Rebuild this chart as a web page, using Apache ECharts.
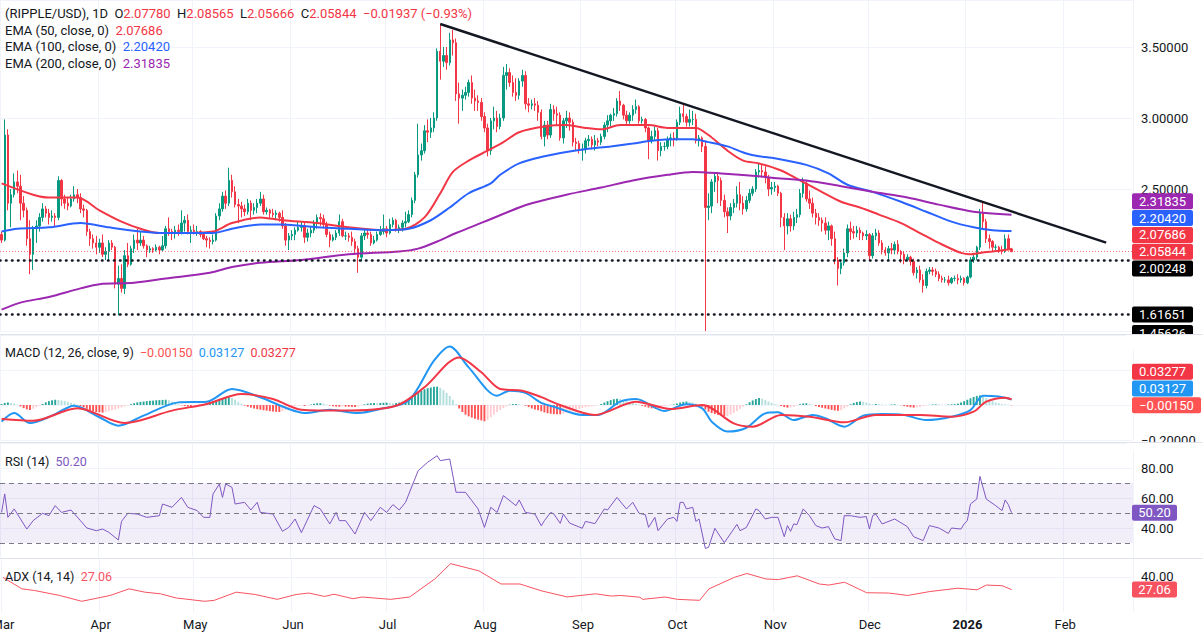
<!DOCTYPE html>
<html><head><meta charset="utf-8">
<script src="https://cdn.jsdelivr.net/npm/echarts@6/dist/echarts.min.js"></script>
<style>html,body{margin:0;padding:0;background:#fff;}#c{width:1203px;height:634px;}</style>
</head><body><div id="c"></div>
<script>
const FONT = 'Roboto, "Noto Sans", sans-serif';

// ---- categories (daily, 2025-03-01 .. 2026-02-22) ----
const cats = [];
for (let i = 0; i < 359; i++) { const d = new Date(Date.UTC(2025, 2, 1 + i)); cats.push(d.toISOString().slice(0, 10)); }
const monthTicks = {'2025-03-01':'Mar','2025-04-01':'Apr','2025-05-01':'May','2025-06-01':'Jun','2025-07-01':'Jul','2025-08-01':'Aug','2025-09-01':'Sep','2025-10-01':'Oct','2025-11-01':'Nov','2025-12-01':'Dec','2026-01-01':'2026','2026-02-01':'Feb'};

// ---- candles [open, close, low, high] ----
const ohlc = [
// Mar
[2.18,2.14,2.12,2.20],[2.14,2.88,2.13,2.99],[2.88,2.40,2.35,2.92],[2.40,2.46,2.23,2.50],[2.46,2.55,2.44,2.61],
[2.55,2.52,2.47,2.63],[2.52,2.40,2.28,2.60],[2.40,2.35,2.30,2.45],[2.35,2.15,2.10,2.37],[2.15,2.04,1.90,2.28],
[2.04,2.22,1.93,2.24],[2.22,2.24,2.12,2.28],[2.24,2.30,2.20,2.33],[2.30,2.36,2.27,2.40],[2.36,2.33,2.30,2.38],
[2.33,2.30,2.25,2.36],[2.30,2.31,2.27,2.35],[2.31,2.30,2.24,2.33],[2.30,2.56,2.28,2.59],[2.56,2.43,2.38,2.57],
[2.43,2.40,2.36,2.46],[2.40,2.38,2.35,2.44],[2.38,2.43,2.37,2.46],[2.43,2.46,2.41,2.52],[2.46,2.44,2.40,2.50],
[2.44,2.36,2.33,2.47],[2.36,2.35,2.30,2.39],[2.35,2.20,2.17,2.36],[2.20,2.15,2.10,2.22],[2.15,2.12,2.08,2.18],
[2.12,2.09,2.04,2.17],
// Apr
[2.09,2.12,2.05,2.15],[2.12,2.04,2.02,2.18],[2.04,2.06,2.00,2.09],[2.06,2.12,2.00,2.14],[2.12,2.09,2.07,2.14],
[2.09,1.83,1.80,2.10],[1.83,1.87,1.61,1.96],[1.87,1.80,1.77,1.97],[1.80,2.03,1.76,2.07],[2.03,1.97,1.95,2.12],
[1.97,2.08,1.96,2.10],[2.08,2.14,2.05,2.18],[2.14,2.12,2.07,2.22],[2.12,2.14,2.10,2.20],[2.14,2.10,2.08,2.17],
[2.10,2.07,2.02,2.11],[2.07,2.08,2.05,2.10],[2.08,2.07,2.05,2.09],[2.07,2.09,2.06,2.11],[2.09,2.07,2.04,2.10],
[2.07,2.10,2.06,2.17],[2.10,2.22,2.08,2.24],[2.22,2.20,2.17,2.30],[2.20,2.19,2.14,2.22],[2.19,2.21,2.15,2.24],
[2.21,2.20,2.17,2.25],[2.20,2.26,2.18,2.35],[2.26,2.28,2.20,2.31],[2.28,2.20,2.18,2.32],[2.20,2.21,2.12,2.24],
// May
[2.21,2.20,2.18,2.25],[2.20,2.20,2.17,2.24],[2.20,2.18,2.16,2.21],[2.18,2.15,2.14,2.19],[2.15,2.14,2.09,2.17],
[2.14,2.13,2.08,2.16],[2.13,2.14,2.11,2.18],[2.14,2.31,2.13,2.33],[2.31,2.36,2.28,2.40],[2.36,2.45,2.34,2.48],
[2.45,2.40,2.36,2.49],[2.40,2.56,2.38,2.65],[2.56,2.48,2.44,2.60],[2.48,2.39,2.37,2.52],[2.39,2.38,2.26,2.43],
[2.38,2.36,2.30,2.41],[2.36,2.34,2.31,2.39],[2.34,2.40,2.32,2.43],[2.40,2.35,2.28,2.42],[2.35,2.37,2.32,2.40],
[2.37,2.40,2.33,2.43],[2.40,2.43,2.38,2.48],[2.43,2.34,2.32,2.46],[2.34,2.35,2.32,2.37],[2.35,2.33,2.29,2.36],
[2.33,2.32,2.30,2.36],[2.32,2.33,2.28,2.35],[2.33,2.30,2.27,2.34],[2.30,2.24,2.22,2.35],[2.24,2.14,2.10,2.26],
[2.14,2.17,2.07,2.19],
// Jun
[2.17,2.18,2.14,2.21],[2.18,2.21,2.14,2.23],[2.21,2.23,2.20,2.27],[2.23,2.24,2.20,2.27],[2.24,2.16,2.12,2.26],
[2.16,2.19,2.13,2.22],[2.19,2.21,2.16,2.24],[2.21,2.26,2.19,2.28],[2.26,2.30,2.22,2.32],[2.30,2.29,2.24,2.33],
[2.29,2.25,2.23,2.32],[2.25,2.18,2.16,2.27],[2.18,2.14,2.09,2.20],[2.14,2.16,2.13,2.18],[2.16,2.19,2.14,2.21],
[2.19,2.27,2.17,2.32],[2.27,2.17,2.16,2.29],[2.17,2.17,2.14,2.20],[2.17,2.16,2.13,2.19],[2.16,2.13,2.10,2.20],
[2.13,2.08,2.05,2.15],[2.08,2.02,1.91,2.10],[2.02,2.17,1.99,2.19],[2.17,2.19,2.14,2.22],[2.19,2.18,2.15,2.22],
[2.18,2.12,2.10,2.20],[2.12,2.14,2.11,2.17],[2.14,2.18,2.13,2.20],[2.18,2.20,2.17,2.24],[2.20,2.22,2.18,2.32],
// Jul
[2.22,2.19,2.16,2.24],[2.19,2.25,2.18,2.29],[2.25,2.28,2.23,2.30],[2.28,2.22,2.20,2.29],[2.22,2.23,2.19,2.25],
[2.23,2.26,2.20,2.28],[2.26,2.27,2.23,2.34],[2.27,2.32,2.26,2.35],[2.32,2.42,2.30,2.44],[2.42,2.60,2.40,2.62],
[2.60,2.74,2.58,2.96],[2.74,2.77,2.70,2.82],[2.77,2.91,2.75,2.95],[2.91,2.90,2.83,2.99],[2.90,2.93,2.86,3.00],
[2.93,3.00,2.90,3.04],[3.00,3.47,2.98,3.49],[3.47,3.40,3.27,3.66],[3.40,3.44,3.36,3.50],[3.44,3.39,3.34,3.50],
[3.39,3.55,3.37,3.60],[3.55,3.53,3.44,3.62],[3.53,3.17,3.12,3.56],[3.17,3.14,2.96,3.25],[3.14,3.16,3.05,3.20],
[3.16,3.18,3.13,3.22],[3.18,3.25,3.15,3.27],[3.25,3.14,3.10,3.30],[3.14,3.12,3.05,3.20],[3.12,3.11,3.05,3.16],
[3.11,3.01,2.98,3.14],
// Aug
[3.01,2.93,2.90,3.04],[2.93,2.77,2.73,2.96],[2.77,2.98,2.74,3.00],[2.98,3.00,2.92,3.08],[3.00,2.94,2.90,3.05],
[2.94,3.00,2.92,3.03],[3.00,3.30,2.98,3.36],[3.30,3.32,3.20,3.38],[3.32,3.25,3.22,3.35],[3.25,3.18,3.15,3.30],
[3.18,3.16,3.12,3.28],[3.16,3.26,3.13,3.28],[3.26,3.30,3.22,3.34],[3.30,3.10,3.06,3.33],[3.10,3.09,3.04,3.14],
[3.09,3.10,3.06,3.13],[3.10,3.09,3.05,3.14],[3.09,3.04,2.98,3.12],[3.04,2.87,2.85,3.06],[2.87,2.95,2.80,2.98],
[2.95,2.88,2.85,2.98],[2.88,3.06,2.86,3.10],[3.06,3.03,2.98,3.09],[3.03,3.02,2.95,3.08],[3.02,2.86,2.84,3.04],
[2.86,2.98,2.82,3.00],[2.98,3.00,2.93,3.05],[3.00,2.97,2.91,3.04],[2.97,2.83,2.80,2.99],[2.83,2.82,2.77,2.86],
[2.82,2.78,2.75,2.84],
// Sep
[2.78,2.78,2.70,2.82],[2.78,2.84,2.75,2.86],[2.84,2.85,2.80,2.88],[2.85,2.81,2.78,2.87],[2.81,2.84,2.77,2.88],
[2.84,2.83,2.80,2.86],[2.83,2.87,2.81,2.89],[2.87,2.95,2.85,2.97],[2.95,2.98,2.90,3.02],[2.98,3.02,2.94,3.03],
[3.02,3.03,2.98,3.07],[3.03,3.12,3.01,3.14],[3.12,3.09,3.05,3.19],[3.09,3.02,2.99,3.10],[3.02,2.98,2.95,3.05],
[2.98,3.02,2.96,3.04],[3.02,3.06,2.98,3.09],[3.06,3.08,3.03,3.13],[3.08,2.98,2.96,3.09],[2.98,2.99,2.96,3.01],
[2.99,2.93,2.90,3.00],[2.93,2.84,2.71,2.94],[2.84,2.87,2.82,2.91],[2.87,2.91,2.84,2.94],[2.91,2.77,2.70,2.93],
[2.77,2.80,2.73,2.83],[2.80,2.80,2.77,2.83],[2.80,2.85,2.78,2.87],[2.85,2.86,2.80,2.89],[2.86,2.85,2.80,2.90],
// Oct
[2.85,2.97,2.84,2.99],[2.97,3.03,2.95,3.08],[3.03,3.01,2.97,3.10],[3.01,2.97,2.94,3.03],[2.97,2.99,2.94,3.06],
[2.99,2.99,2.95,3.05],[2.99,2.84,2.82,3.03],[2.84,2.86,2.80,2.88],[2.86,2.80,2.76,2.87],[2.80,2.37,1.50,2.84],
[2.37,2.38,2.28,2.47],[2.38,2.55,2.33,2.57],[2.55,2.59,2.48,2.61],[2.59,2.56,2.40,2.62],[2.56,2.42,2.38,2.58],
[2.42,2.34,2.30,2.46],[2.34,2.31,2.19,2.37],[2.31,2.37,2.28,2.40],[2.37,2.40,2.33,2.43],[2.40,2.46,2.37,2.52],
[2.46,2.40,2.35,2.55],[2.40,2.36,2.32,2.45],[2.36,2.42,2.34,2.45],[2.42,2.47,2.40,2.50],[2.47,2.50,2.45,2.52],
[2.50,2.62,2.48,2.64],[2.62,2.63,2.58,2.68],[2.63,2.62,2.58,2.67],[2.62,2.58,2.54,2.66],[2.58,2.50,2.45,2.60],
[2.50,2.51,2.46,2.55],
// Nov
[2.51,2.52,2.48,2.55],[2.52,2.47,2.45,2.53],[2.47,2.30,2.23,2.48],[2.30,2.24,2.07,2.33],[2.24,2.29,2.18,2.33],
[2.29,2.24,2.20,2.32],[2.24,2.30,2.21,2.34],[2.30,2.32,2.26,2.36],[2.32,2.47,2.30,2.50],[2.47,2.54,2.44,2.58],
[2.54,2.43,2.41,2.56],[2.43,2.40,2.36,2.49],[2.40,2.33,2.30,2.44],[2.33,2.30,2.25,2.36],[2.30,2.28,2.24,2.33],
[2.28,2.26,2.20,2.30],[2.26,2.21,2.18,2.30],[2.21,2.24,2.14,2.27],[2.24,2.15,2.10,2.25],[2.15,2.00,1.97,2.20],
[2.00,1.94,1.82,2.02],[1.94,1.98,1.90,2.00],[1.98,2.05,1.96,2.08],[2.05,2.22,2.02,2.25],[2.22,2.20,2.14,2.27],
[2.20,2.19,2.15,2.24],[2.19,2.21,2.16,2.24],[2.21,2.19,2.14,2.23],[2.19,2.17,2.14,2.20],[2.17,2.18,2.14,2.21],
// Dec
[2.18,2.03,2.00,2.19],[2.03,2.17,2.01,2.19],[2.17,2.19,2.14,2.22],[2.19,2.12,2.10,2.21],[2.12,2.07,2.04,2.14],
[2.07,2.05,2.03,2.09],[2.05,2.08,2.00,2.10],[2.08,2.07,2.04,2.12],[2.07,2.11,2.04,2.13],[2.11,2.06,2.04,2.14],
[2.06,2.04,1.98,2.07],[2.04,2.00,1.97,2.06],[2.00,2.02,1.99,2.04],[2.02,1.99,1.96,2.03],[1.99,1.91,1.89,2.01],
[1.91,1.93,1.87,1.95],[1.93,1.86,1.84,1.96],[1.86,1.82,1.77,1.90],[1.82,1.92,1.80,1.94],[1.92,1.93,1.90,1.95],
[1.93,1.92,1.89,1.95],[1.92,1.90,1.88,1.94],[1.90,1.87,1.85,1.92],[1.87,1.86,1.84,1.89],[1.86,1.86,1.84,1.88],
[1.86,1.84,1.82,1.89],[1.84,1.87,1.83,1.88],[1.87,1.87,1.85,1.89],[1.87,1.86,1.83,1.90],[1.86,1.87,1.84,1.89],
[1.87,1.84,1.82,1.88],
// Jan 2026
[1.84,1.88,1.83,1.89],[1.88,2.00,1.87,2.02],[2.00,2.02,1.98,2.05],[2.02,2.09,2.00,2.10],[2.09,2.33,2.07,2.36],
[2.33,2.27,2.22,2.41],[2.27,2.15,2.12,2.29],[2.15,2.13,2.08,2.18],[2.13,2.09,2.06,2.14],[2.09,2.09,2.07,2.11],
[2.09,2.07,2.05,2.10],[2.07,2.06,2.04,2.10],[2.06,2.15,2.05,2.18],[2.15,2.0778,2.07,2.18],[2.0778,2.05844,2.05666,2.08565]
];

// ---- moving averages: [dayIndex, value] ----
const ema50 = [[0,2.54],[10,2.46],[15,2.44],[24,2.44],[31,2.35],[38,2.27],[44,2.22],[50,2.19],[59,2.19],[67,2.20],[73,2.26],[82,2.30],[89,2.28],[100,2.26],[110,2.23],[121,2.21],[128,2.22],[134,2.30],[139,2.47],[143,2.62],[148,2.70],[154,2.77],[159,2.83],[164,2.90],[172,2.94],[179,2.95],[185,2.93],[190,2.92],[196,2.95],[205,2.95],[211,2.93],[220,2.93],[224,2.88],[230,2.77],[235,2.70],[240,2.68],[247,2.63],[253,2.56],[259,2.49],[266,2.41],[272,2.37],[278,2.32],[285,2.26],[291,2.19],[297,2.12],[304,2.05],[307,2.04],[310,2.05],[314,2.06],[320,2.07686]];
const ema100 = [[0,2.20],[5,2.22],[15,2.23],[25,2.26],[34,2.23],[44,2.20],[50,2.19],[67,2.19],[73,2.22],[82,2.25],[89,2.25],[100,2.23],[110,2.22],[121,2.21],[129,2.22],[136,2.28],[142,2.37],[148,2.47],[155,2.54],[158,2.60],[164,2.68],[172,2.73],[179,2.76],[185,2.78],[193,2.80],[200,2.82],[206,2.84],[214,2.85],[219,2.85],[224,2.83],[230,2.80],[236,2.75],[240,2.73],[244,2.72],[255,2.67],[262,2.61],[268,2.53],[276,2.48],[285,2.41],[293,2.34],[301,2.27],[308,2.23],[314,2.21],[320,2.20420]];
const ema200 = [[0,1.65],[6,1.70],[15,1.74],[25,1.80],[31,1.83],[42,1.84],[52,1.87],[66,1.91],[73,1.95],[82,1.98],[95,2.00],[110,2.04],[126,2.06],[132,2.08],[138,2.13],[144,2.19],[153,2.27],[164,2.37],[168,2.40],[179,2.46],[190,2.51],[200,2.56],[211,2.60],[219,2.62],[228,2.61],[240,2.59],[244,2.58],[255,2.56],[266,2.52],[276,2.48],[287,2.44],[297,2.39],[308,2.34],[320,2.31835]];

// ---- MACD ----
const macdLine = [[0,-0.095],[4,-0.046],[9,-0.103],[16,-0.061],[23,-0.004],[31,-0.070],[37,-0.118],[45,-0.061],[56,0.015],[65,0.019],[73,0.091],[82,0.044],[91,-0.023],[96,-0.046],[104,-0.027],[113,-0.046],[120,-0.023],[129,0.025],[137,0.253],[142,0.335],[148,0.215],[157,0.053],[161,0.082],[166,0.069],[171,0.012],[175,-0.010],[184,-0.057],[189,-0.057],[196,0.019],[201,0.034],[210,-0.034],[217,0.004],[222,-0.019],[225,-0.095],[230,-0.152],[236,-0.130],[242,-0.048],[246,-0.042],[251,-0.086],[257,-0.057],[261,-0.076],[267,-0.124],[273,-0.061],[279,-0.051],[286,-0.057],[293,-0.086],[301,-0.067],[307,-0.029],[311,0.053],[316,0.048],[320,0.03127]];
const signalLine = [[0,-0.080],[10,-0.090],[24,-0.019],[39,-0.103],[54,-0.032],[65,0.006],[76,0.063],[86,0.034],[95,-0.027],[108,-0.032],[125,-0.004],[134,0.101],[145,0.272],[152,0.187],[158,0.091],[165,0.082],[171,0.045],[177,0.000],[188,-0.057],[201,0.019],[212,-0.023],[222,0.000],[232,-0.105],[238,-0.124],[247,-0.057],[256,-0.067],[267,-0.099],[277,-0.057],[291,-0.057],[301,-0.067],[308,-0.038],[312,0.019],[318,0.042],[320,0.03277]];
const hist = [
0.006,0.012,0.015,0.012,0.008,0.003,
-0.008,-0.018,-0.025,-0.028,-0.022,-0.012,-0.004,
0.006,0.015,0.022,0.027,0.030,0.029,0.026,0.022,0.018,0.013,0.008,0.003,
-0.006,-0.014,-0.022,-0.030,-0.036,-0.040,-0.042,-0.043,-0.040,-0.035,-0.030,-0.026,-0.020,-0.014,-0.008,-0.003,
0.004,0.010,0.015,0.018,0.020,0.022,0.024,0.025,0.027,0.028,0.029,0.030,0.027,0.020,0.012,0.005,
-0.002,-0.006,-0.009,-0.010,-0.008,-0.006,-0.004,0.002,0.006,
0.012,0.020,0.028,0.035,0.040,0.044,0.045,0.040,0.030,0.018,0.008,
-0.004,-0.010,-0.015,-0.020,-0.024,-0.027,-0.030,-0.032,-0.035,-0.037,-0.039,-0.040,-0.036,-0.028,-0.016,
-0.008,-0.006,-0.004,-0.003,-0.005,-0.002,
0.003,0.007,0.010,0.010,0.007,0.003,
-0.003,-0.007,-0.009,-0.010,-0.008,-0.009,-0.010,-0.011,-0.012,-0.008,
-0.002,0.004,0.008,0.010,0.011,0.010,0.012,0.013,0.014,0.012,0.010,0.011,
0.014,0.018,0.024,0.034,0.046,0.060,0.072,0.082,0.090,0.096,0.100,0.104,0.105,0.098,0.085,0.070,0.052,0.030,
0.005,-0.020,-0.040,-0.055,-0.065,-0.072,-0.078,-0.084,-0.088,-0.093,-0.085,
-0.070,-0.055,-0.040,-0.028,-0.018,-0.008,
0.002,0.005,0.006,0.004,0.001,-0.004,
-0.012,-0.020,-0.026,-0.030,
-0.036,-0.042,-0.047,-0.050,-0.052,-0.053,-0.053,-0.050,-0.046,-0.040,-0.034,-0.028,-0.022,
-0.017,-0.013,-0.010,-0.007,-0.004,-0.001,
0.006,0.014,0.022,0.028,0.033,0.036,0.034,
0.028,0.022,0.016,0.011,0.007,0.003,
-0.005,-0.010,-0.015,-0.019,-0.020,-0.017,-0.012,
-0.006,-0.002,0.001,0.003,
0.008,0.014,0.018,0.020,0.018,0.014,0.008,0.002,
-0.010,-0.025,-0.038,-0.046,-0.052,-0.056,-0.060,-0.063,-0.062,-0.055,
-0.045,-0.034,-0.022,-0.010,
0.004,0.016,0.026,0.034,0.040,0.036,
0.028,0.020,0.012,0.005,0.001,
-0.006,-0.012,-0.015,-0.014,-0.010,-0.004,
0.004,0.009,0.010,0.006,0.002,
-0.006,-0.012,-0.016,-0.020,-0.024,-0.028,-0.031,-0.033,-0.030,
-0.020,-0.010,
0.004,0.012,0.017,0.020,0.019,0.014,0.008,
0.004,0.006,0.005,0.003,0.002,0.001,0.003,0.004,0.002,-0.002,
-0.006,-0.010,-0.013,-0.015,-0.014,-0.011,-0.006,
-0.002,0.001,0.003,0.004,0.003,0.002,0.001,0.003,0.004,0.005,0.008,
0.014,0.022,0.030,0.038,0.046,0.052,0.055,0.050,0.040,
0.030,0.022,0.015,0.010,0.006,0.004,0.002,-0.0015
];

// ---- RSI (14) ----
const rsi = [[0,50.4],[1,62.7],[2,47.1],[4,52.7],[8,39.3],[10,44.9],[13,49.8],[15,48.2],[17,54.9],[19,50.4],[22,52.0],[25,44.9],[27,40.0],[30,38.2],[32,39.3],[34,37.1],[37,32.0],[38,44.4],[40,49.8],[43,49.3],[46,47.1],[50,48.2],[51,56.0],[54,53.8],[57,60.4],[59,53.8],[62,51.6],[64,47.1],[66,47.1],[67,62.7],[69,69.3],[70,60.4],[71,69.3],[73,67.1],[74,56.0],[77,57.1],[79,52.0],[81,57.1],[82,50.4],[86,49.3],[89,37.8],[91,40.4],[93,46.0],[95,36.9],[99,54.9],[101,52.7],[104,42.7],[106,50.4],[107,44.9],[109,44.9],[112,36.0],[115,50.4],[117,44.9],[120,53.8],[122,50.4],[124,55.6],[126,52.0],[128,57.1],[132,78.2],[135,83.8],[138,88.2],[139,84.9],[142,86.0],[144,63.8],[147,63.8],[149,58.2],[151,52.7],[153,40.4],[155,53.8],[157,50.4],[159,61.6],[163,54.9],[164,58.7],[166,50.4],[169,49.3],[171,41.5],[172,44.9],[174,50.4],[175,49.3],[177,43.1],[178,49.3],[180,43.3],[184,39.8],[185,44.4],[188,42.9],[191,52.7],[192,52.0],[195,60.4],[198,52.7],[200,57.1],[202,49.8],[204,48.9],[205,40.4],[207,47.1],[208,38.2],[211,46.0],[213,47.1],[214,44.4],[215,57.1],[216,57.1],[217,52.7],[219,53.8],[220,44.4],[221,46.0],[223,26.4],[224,27.1],[226,39.8],[229,30.2],[233,42.4],[234,38.2],[236,40.4],[239,52.7],[240,51.6],[242,46.0],[244,47.1],[246,47.1],[248,34.2],[249,41.6],[250,37.8],[251,42.7],[252,42.2],[254,52.7],[256,48.2],[258,41.6],[260,40.0],[262,40.9],[264,32.7],[266,31.6],[267,48.2],[269,48.2],[272,47.1],[274,47.6],[275,39.3],[276,48.2],[277,49.3],[279,42.7],[283,46.0],[287,40.9],[289,34.2],[292,31.6],[294,41.6],[297,40.0],[300,36.4],[301,40.0],[304,39.3],[305,42.7],[306,44.9],[307,56.0],[309,59.3],[310,74.4],[312,59.3],[315,54.9],[317,51.6],[318,58.7],[319,55.6],[320,50.2]];

// ---- ADX (14, 14) ----
const adx = [[0,39.6],[6,27.8],[10,26.1],[18,21.0],[25,15.0],[34,21.0],[40,27.8],[45,24.4],[50,22.7],[55,18.4],[64,15.0],[67,16.0],[74,24.4],[80,22.0],[87,17.0],[93,22.0],[97,23.5],[102,20.0],[105,22.3],[111,17.7],[114,19.4],[123,17.0],[129,19.4],[137,38.0],[142,53.7],[151,46.3],[158,32.8],[164,32.8],[171,25.6],[179,19.5],[188,22.7],[193,20.4],[196,21.0],[202,19.2],[203,17.0],[210,19.4],[214,17.0],[221,16.0],[224,27.8],[232,39.6],[236,43.6],[242,38.0],[246,37.3],[252,41.2],[259,32.8],[262,31.7],[267,34.6],[274,23.8],[281,23.5],[287,21.0],[294,25.0],[303,28.5],[309,26.8],[312,31.7],[317,31.0],[320,27.06]];

// ---- levels / last values ----
const lastPrice = 2.05844;
const hLevels = [2.00248, 1.61651];
const hiddenLevel = 1.45626;
const trendFrom = [139, 3.662], trendTo = [350, 2.123];
const legendOHLC = {o:'2.07780', h:'2.08565', l:'2.05666', c:'2.05844', chg:'−0.01937 (−0.93%)'};

const GRID = '#F0F3FA', TXT = '#131722';
const isTick = (i, v) => !!monthTicks[v];
const firstLabel = cats[0];   // drawn separately so it is clipped at the left edge like the reference

function xAxisFor(g, show) {
  return {
    type: 'category', gridIndex: g, data: cats, boundaryGap: true,
    axisLine: {show: false}, axisTick: {show: false},
    axisLabel: {
      show: show, interval: isTick, margin: 6, color: TXT, fontSize: 13, fontFamily: FONT,
      formatter: v => v === firstLabel ? '' : (monthTicks[v] === '2026' ? '{b|2026}' : (monthTicks[v] || '')),
      rich: {b: {fontWeight: 'bold', fontSize: 13, color: TXT, fontFamily: FONT}}
    },
    splitLine: {show: true, interval: isTick, lineStyle: {color: GRID, width: 1}}
  };
}
const yLab = {color: TXT, fontSize: 13, fontFamily: FONT, margin: 8, align: 'left'};
// ADX pane shows only the 40 gridline (ticks every 4 from 4)
const adxGridColors = []; for (let v = 4; v <= 60; v += 4) adxGridColors.push(v === 40 ? GRID : 'rgba(0,0,0,0)');

const chart = echarts.init(document.getElementById('c'), null, {renderer: 'svg'});
const histColor = p => {
  const i = p.dataIndex, v = hist[i], pv = i > 0 ? hist[i - 1] : 0;
  if (v >= 0) return v >= pv ? '#26A69A' : '#B2DFDB';
  return v <= pv ? '#FF5252' : '#FFCDD2';
};

chart.setOption({
  animation: false,
  grid: [
    {left: 0, right: 70, top: 0, height: 331},
    {left: 0, right: 70, top: 335, height: 105},
    {left: 0, right: 70, top: 443, height: 115},
    {left: 0, right: 70, top: 559, height: 53}
  ],
  xAxis: [xAxisFor(0, false), xAxisFor(1, false), xAxisFor(2, false), xAxisFor(3, true)],
  yAxis: [
    {type: 'value', gridIndex: 0, position: 'right', min: 1.5, max: 3.831, interval: 0.5,
     axisLine: {show: false}, axisTick: {show: false}, splitLine: {lineStyle: {color: GRID}},
     axisLabel: Object.assign({}, yLab, {formatter: v => { const k = Math.round(v * 2); return (Math.abs(v * 2 - k) < 1e-6 && v >= 2.49 && v <= 3.51) ? v.toFixed(5) : ''; }})},
    {type: 'value', gridIndex: 1, position: 'right', min: -0.2, max: 0.4, interval: 0.2,
     axisLine: {show: false}, axisTick: {show: false}, splitLine: {lineStyle: {color: GRID}},
     axisLabel: Object.assign({}, yLab, {formatter: v => Math.abs(v + 0.2) < 1e-9 ? '−0.20000' : ''})},
    {type: 'value', gridIndex: 2, position: 'right', min: 20, max: 96.67, interval: 20,
     axisLine: {show: false}, axisTick: {show: false}, splitLine: {lineStyle: {color: GRID}},
     axisLabel: Object.assign({}, yLab, {formatter: v => [40, 60, 80].some(t => Math.abs(v - t) < 1e-9) ? v.toFixed(2) : ''})},
    {type: 'value', gridIndex: 3, position: 'right', min: 4, max: 58.5, interval: 4,
     axisLine: {show: false}, axisTick: {show: false}, splitLine: {show: true, lineStyle: {color: adxGridColors}},
     axisLabel: Object.assign({}, yLab, {formatter: v => Math.abs(v - 40) < 1e-9 ? '40.00' : ''})}
  ],
  series: [
    {type: 'candlestick', xAxisIndex: 0, yAxisIndex: 0, data: ohlc, barWidth: '62%', clip: true,
     itemStyle: {color: '#089981', color0: '#F23645', borderColor: '#089981', borderColor0: '#F23645', borderWidth: 1},
     markLine: {symbol: 'none', silent: true, animation: false, label: {show: false},
       data: [
         {yAxis: lastPrice, lineStyle: {color: '#F23645', type: [1, 2], width: 1, opacity: 0.7}},
         ...hLevels.map(v => ({yAxis: v, lineStyle: {color: TXT, type: [0.5, 5.5], width: 2.6, cap: 'round'}})),
         [{coord: [cats[trendFrom[0]], trendFrom[1]], lineStyle: {color: TXT, width: 2.4, type: 'solid'}},
          {coord: [cats[trendTo[0]], trendTo[1]]}]
       ]}},
    {type: 'line', xAxisIndex: 0, yAxisIndex: 0, data: ema50, showSymbol: false, smooth: 0.3, lineStyle: {color: '#F23645', width: 2}, z: 3},
    {type: 'line', xAxisIndex: 0, yAxisIndex: 0, data: ema100, showSymbol: false, smooth: 0.3, lineStyle: {color: '#2962FF', width: 2}, z: 3},
    {type: 'line', xAxisIndex: 0, yAxisIndex: 0, data: ema200, showSymbol: false, smooth: 0.3, lineStyle: {color: '#9C27B0', width: 2}, z: 3},
    {type: 'bar', xAxisIndex: 1, yAxisIndex: 1, data: hist, barWidth: '60%', itemStyle: {color: histColor}},
    {type: 'line', xAxisIndex: 1, yAxisIndex: 1, data: macdLine, showSymbol: false, smooth: 0.3, lineStyle: {color: '#2196F3', width: 2}, z: 3},
    {type: 'line', xAxisIndex: 1, yAxisIndex: 1, data: signalLine, showSymbol: false, smooth: 0.3, lineStyle: {color: '#F23645', width: 2}, z: 3},
    {type: 'line', xAxisIndex: 2, yAxisIndex: 2, data: rsi, showSymbol: false, lineStyle: {color: '#7E57C2', width: 1},
     markArea: {silent: true, itemStyle: {color: 'rgba(126,87,194,0.1)'}, data: [[{yAxis: 30}, {yAxis: 70}]]},
     markLine: {symbol: 'none', silent: true, label: {show: false},
       lineStyle: {color: '#787B86', type: [5, 4], width: 1},
       data: [{yAxis: 70}, {yAxis: 50}, {yAxis: 30}]}},
    {type: 'line', xAxisIndex: 3, yAxisIndex: 3, data: adx, showSymbol: false, lineStyle: {color: '#F7525F', width: 1}}
  ]
});

// ---- right-side value labels (stacked like TradingView) ----
function stackLabels(items, axisIdx, anchor, h, clampMax) {
  items.forEach(it => it.y = chart.convertToPixel({yAxisIndex: axisIdx}, it.v));
  for (let i = anchor - 1; i >= 0; i--) items[i].y = Math.min(items[i].y, items[i + 1].y - h);
  for (let i = anchor + 1; i < items.length; i++) items[i].y = Math.max(items[i].y, items[i - 1].y + h);
  if (clampMax != null) items.forEach(it => it.y = Math.min(it.y, clampMax));
  return items;
}
const mainLabels = stackLabels([
  {v: 2.31835, t: '2.31835', bg: '#9C27B0'},
  {v: 2.20420, t: '2.20420', bg: '#2962FF'},
  {v: 2.07686, t: '2.07686', bg: '#F23645'},
  {v: lastPrice, t: '2.05844', bg: '#F23645'},
  {v: hLevels[0], t: '2.00248', bg: '#000000'},
  {v: hLevels[1], t: '1.61651', bg: '#000000'},
  {v: hiddenLevel, t: '1.45626', bg: '#000000'}
], 0, 3, 16.8, 333);
const macdLabels = stackLabels([
  {v: 0.03277, t: '0.03277', bg: '#F23645'},
  {v: 0.03127, t: '0.03127', bg: '#2196F3'},
  {v: -0.0015, t: '−0.00150', bg: '#FF5252'}
], 1, 2, 16.8);
const rsiLabels = stackLabels([{v: 50.20, t: '50.20', bg: '#7E57C2'}], 2, 0, 16.8);
const adxLabels = stackLabels([{v: 27.06, t: '27.06', bg: '#F7525F'}], 3, 0, 16.8);

const graphics = [];
[...mainLabels, ...macdLabels, ...rsiLabels, ...adxLabels].forEach(it => {
  const w = 8 * it.t.length + 5, x0 = 1132;
  graphics.push({type: 'rect', z: 100, shape: {x: x0, y: it.y - 8, width: w, height: 16, r: 2}, style: {fill: it.bg}});
  graphics.push({type: 'text', z: 101, x: x0 + w / 2, y: it.y, style: {text: it.t, fill: '#FFFFFF', fontSize: 13, fontFamily: FONT, align: 'center', verticalAlign: 'middle'}});
});
// pane cover + separators
graphics.push({type: 'rect', z: 110, shape: {x: 1126, y: 334, width: 77, height: 16}, style: {fill: '#FFFFFF'}});
graphics.push({type: 'rect', z: 110, shape: {x: 1126, y: 442, width: 77, height: 8}, style: {fill: '#FFFFFF'}});
[334, 442, 558].forEach(y => graphics.push({type: 'line', z: 111, shape: {x1: 0, y1: y + 0.5, x2: 1203, y2: y + 0.5}, style: {stroke: '#E0E3EB', lineWidth: 1}}));

// first month label, centred on its candle (cut by the left edge)
const x0px = chart.convertToPixel({xAxisIndex: 3}, firstLabel);
graphics.push({type: 'text', z: 120, x: x0px, y: 618, style: {text: monthTicks[firstLabel], fontSize: 13, fontFamily: FONT, fill: TXT, align: 'center', verticalAlign: 'top'}});

// legends
function legend(x, y, text, rich, fs) {
  graphics.push({type: 'text', z: 120, x: x, y: y, style: {text: text, fontSize: fs, fontFamily: FONT, fill: TXT, verticalAlign: 'middle', rich: rich}});
}
const rd = fs => ({fill: TXT, fontSize: fs, fontFamily: FONT});
const mk = (c, fs) => ({fill: c, fontSize: fs, fontFamily: FONT});
const T = 13, S = 12.5;
legend(5, 13, '{d|(RIPPLE/USD), 1D  O}{r|' + legendOHLC.o + '}{d|  H}{r|' + legendOHLC.h + '}{d|  L}{r|' + legendOHLC.l + '}{d|  C}{r|' + legendOHLC.c + '}{r|  ' + legendOHLC.chg + '}', {d: rd(T), r: mk('#F23645', T)}, T);
legend(5, 30, '{d|EMA (50, close, 0)  }{v|2.07686}', {d: rd(T), v: mk('#F23645', T)}, T);
legend(5, 46, '{d|EMA (100, close, 0)  }{v|2.20420}', {d: rd(T), v: mk('#2962FF', T)}, T);
legend(5, 63, '{d|EMA (200, close, 0)  }{v|2.31835}', {d: rd(T), v: mk('#9C27B0', T)}, T);
legend(5, 352, '{d|MACD (12, 26, close, 9)  }{a|−0.00150}{d|  }{b|0.03127}{d|  }{c|0.03277}', {d: rd(S), a: mk('#FF5252', S), b: mk('#2196F3', S), c: mk('#F23645', S)}, S);
legend(5, 461, '{d|RSI (14)  }{v|50.20}', {d: rd(S), v: mk('#7E57C2', S)}, S);
legend(5, 576, '{d|ADX (14, 14)  }{v|27.06}', {d: rd(S), v: mk('#F7525F', S)}, S);

chart.setOption({graphic: graphics});
</script>
</body></html>
